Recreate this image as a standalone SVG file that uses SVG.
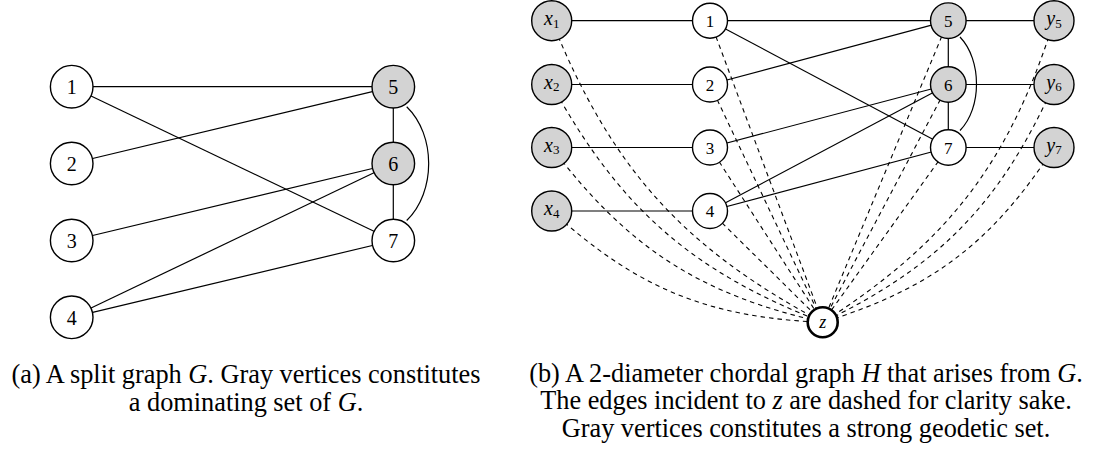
<svg xmlns="http://www.w3.org/2000/svg" width="1095" height="454" viewBox="0 0 1095 454">
<style>
.e{stroke:#000;stroke-width:1.2;fill:none}
.d{stroke:#000;stroke-width:1.1;fill:none;stroke-dasharray:4.5 4}
.n{fill:#fff;stroke:#000;stroke-width:1.4}
.g{fill:#d3d3d3;stroke:#000;stroke-width:1.4}
.z{fill:#fff;stroke:#000;stroke-width:2.6}
.la{font-family:"Liberation Serif",serif;font-size:20px;text-anchor:middle;fill:#000}
.lb{font-family:"Liberation Serif",serif;font-size:17px;text-anchor:middle;fill:#000}
.lv{font-family:"Liberation Serif",serif;font-size:20px;text-anchor:middle;fill:#000}
.it{font-style:italic}
.sub{font-size:13px;font-style:normal}
.cap{font-family:"Liberation Serif",serif;font-size:26.3px;text-anchor:middle;fill:#000}
</style>
<rect width="1095" height="454" fill="#fff"/>
<g id="connectors-a">
<line class="e" x1="71.7" y1="86.7" x2="393.3" y2="86.7"/>
<line class="e" x1="71.7" y1="86.7" x2="393.3" y2="240.5"/>
<line class="e" x1="71.7" y1="163.5" x2="393.3" y2="86.7"/>
<line class="e" x1="71.7" y1="240.5" x2="393.3" y2="163.5"/>
<line class="e" x1="71.7" y1="317.3" x2="393.3" y2="163.5"/>
<line class="e" x1="71.7" y1="317.3" x2="393.3" y2="240.5"/>
<line class="e" x1="393.3" y1="86.7" x2="393.3" y2="240.5"/>
<path class="e" d="M406.7,106.7 C436,135 436,192 406.7,220.5"/>
</g>
<g id="a1"><circle class="n" cx="71.7" cy="86.7" r="21.3"/><text class="la" x="71.7" y="94.3">1</text></g>
<g id="a2"><circle class="n" cx="71.7" cy="163.5" r="21.3"/><text class="la" x="71.7" y="171.1">2</text></g>
<g id="a3"><circle class="n" cx="71.7" cy="240.5" r="21.3"/><text class="la" x="71.7" y="248.1">3</text></g>
<g id="a4"><circle class="n" cx="71.7" cy="317.3" r="21.3"/><text class="la" x="71.7" y="324.9">4</text></g>
<g id="a5"><circle class="g" cx="393.3" cy="86.7" r="21.3"/><text class="la" x="393.3" y="94.3">5</text></g>
<g id="a6"><circle class="g" cx="393.3" cy="163.5" r="21.3"/><text class="la" x="393.3" y="171.1">6</text></g>
<g id="a7"><circle class="n" cx="393.3" cy="240.5" r="21.3"/><text class="la" x="393.3" y="248.1">7</text></g>

<g id="connectors-b">
<path class="d" d="M551.7,20.7 C611,167.9 682.6,247.6 822.7,322.3"/>
<path class="d" d="M551.7,84.5 C619.5,208.2 691.2,271.1 822.7,322.3"/>
<path class="d" d="M551.7,147.5 C628,248.1 699.5,294.3 822.7,322.3"/>
<path class="d" d="M551.7,211 C636.5,288.2 708.1,317.6 822.7,322.3"/>
<path class="d" d="M1054,20.7 C1009.3,162.6 948.2,242.3 822.7,322.3"/>
<path class="d" d="M1054,84.5 C1000.7,203 939.7,265.8 822.7,322.3"/>
<path class="d" d="M1054,147.5 C992.3,242.8 931.2,289 822.7,322.3"/>
<line class="d" x1="710" y1="20.7" x2="822.7" y2="322.3"/>
<line class="d" x1="710" y1="84.5" x2="822.7" y2="322.3"/>
<line class="d" x1="710" y1="147.5" x2="822.7" y2="322.3"/>
<line class="d" x1="710" y1="211" x2="822.7" y2="322.3"/>
<line class="d" x1="948.3" y1="20.7" x2="822.7" y2="322.3"/>
<line class="d" x1="948.3" y1="84.5" x2="822.7" y2="322.3"/>
<line class="d" x1="948.3" y1="147.5" x2="822.7" y2="322.3"/>
<line class="e" x1="551.7" y1="20.7" x2="1054" y2="20.7"/>
<line class="e" x1="551.7" y1="84.5" x2="710" y2="84.5"/>
<line class="e" x1="551.7" y1="147.5" x2="710" y2="147.5"/>
<line class="e" x1="551.7" y1="211" x2="710" y2="211"/>
<line class="e" x1="948.3" y1="84.5" x2="1054" y2="84.5"/>
<line class="e" x1="948.3" y1="147.5" x2="1054" y2="147.5"/>
<line class="e" x1="948.3" y1="20.7" x2="948.3" y2="147.5"/>
<line class="e" x1="710" y1="20.7" x2="948.3" y2="147.5"/>
<line class="e" x1="710" y1="84.5" x2="948.3" y2="20.7"/>
<line class="e" x1="710" y1="147.5" x2="948.3" y2="84.5"/>
<line class="e" x1="710" y1="211" x2="948.3" y2="84.5"/>
<line class="e" x1="710" y1="211" x2="948.3" y2="147.5"/>
<path class="e" d="M960,37 C982,60 982,108 960,130.5"/>
</g>
<g id="bx1"><circle class="g" cx="551.7" cy="20.7" r="20"/><text class="lv" x="551.7" y="25"><tspan class="it">x</tspan><tspan class="sub" dy="2.5">1</tspan></text></g>
<g id="bx2"><circle class="g" cx="551.7" cy="84.5" r="20"/><text class="lv" x="551.7" y="88.8"><tspan class="it">x</tspan><tspan class="sub" dy="2.5">2</tspan></text></g>
<g id="bx3"><circle class="g" cx="551.7" cy="147.5" r="20"/><text class="lv" x="551.7" y="151.8"><tspan class="it">x</tspan><tspan class="sub" dy="2.5">3</tspan></text></g>
<g id="bx4"><circle class="g" cx="551.7" cy="211" r="20"/><text class="lv" x="551.7" y="215.3"><tspan class="it">x</tspan><tspan class="sub" dy="2.5">4</tspan></text></g>
<g id="b1"><circle class="n" cx="710" cy="20.7" r="17.5"/><text class="lb" x="710" y="26.7">1</text></g>
<g id="b2"><circle class="n" cx="710" cy="84.5" r="17.5"/><text class="lb" x="710" y="90.5">2</text></g>
<g id="b3"><circle class="n" cx="710" cy="147.5" r="17.5"/><text class="lb" x="710" y="153.5">3</text></g>
<g id="b4"><circle class="n" cx="710" cy="211" r="17.5"/><text class="lb" x="710" y="217">4</text></g>
<g id="b5"><circle class="g" cx="948.3" cy="20.7" r="17.8"/><text class="lb" x="948.3" y="26.7">5</text></g>
<g id="b6"><circle class="g" cx="948.3" cy="84.5" r="17.8"/><text class="lb" x="948.3" y="90.5">6</text></g>
<g id="b7"><circle class="n" cx="948.3" cy="147.5" r="17.8"/><text class="lb" x="948.3" y="153.5">7</text></g>
<g id="by5"><circle class="g" cx="1054" cy="20.7" r="20"/><text class="lv" x="1054" y="25"><tspan class="it">y</tspan><tspan class="sub" dy="2.5">5</tspan></text></g>
<g id="by6"><circle class="g" cx="1054" cy="84.5" r="20"/><text class="lv" x="1054" y="88.8"><tspan class="it">y</tspan><tspan class="sub" dy="2.5">6</tspan></text></g>
<g id="by7"><circle class="g" cx="1054" cy="147.5" r="20"/><text class="lv" x="1054" y="151.8"><tspan class="it">y</tspan><tspan class="sub" dy="2.5">7</tspan></text></g>
<g id="bz"><circle class="z" cx="822.7" cy="322.3" r="15"/><text class="lv it" x="822.7" y="328.3" style="font-size:18px">z</text></g>

<g id="caption-a">
<text class="cap" x="246" y="382.5">(a) A split graph <tspan class="it">G</tspan>. Gray vertices constitutes</text>
<text class="cap" x="246" y="410.5">a dominating set of <tspan class="it">G</tspan>.</text>
</g>
<g id="caption-b">
<text class="cap" x="806" y="381.5">(b) A 2-diameter chordal graph <tspan class="it">H</tspan> that arises from <tspan class="it">G</tspan>.</text>
<text class="cap" x="806" y="409.3">The edges incident to <tspan class="it">z</tspan> are dashed for clarity sake.</text>
<text class="cap" x="806" y="437">Gray vertices constitutes a strong geodetic set.</text>
</g>
</svg>
